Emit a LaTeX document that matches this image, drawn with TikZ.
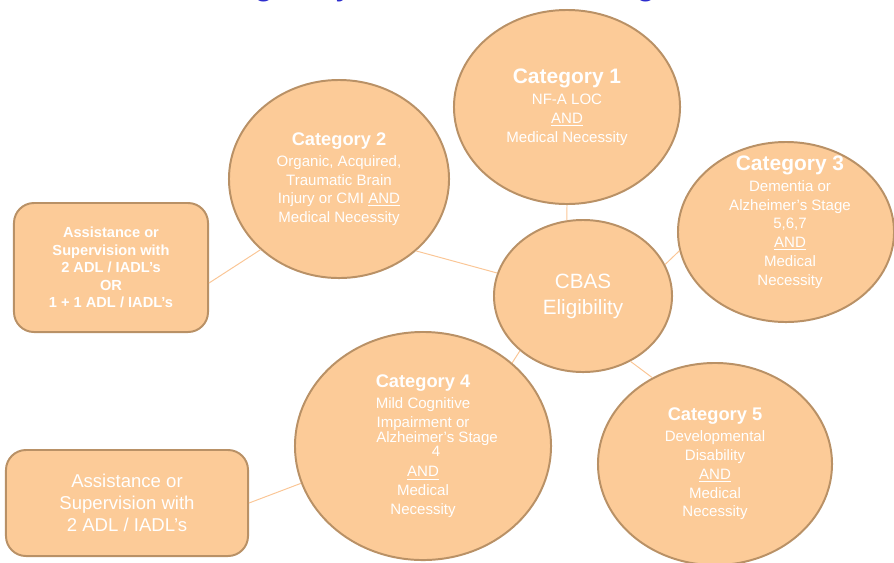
\documentclass[tikz,border=0pt]{standalone}
\usepackage{fontspec}
\setmainfont{Liberation Sans}
\usetikzlibrary{shapes.geometric}

\definecolor{catfill}{RGB}{252,203,152}
\definecolor{catline}{RGB}{185,145,102}
\definecolor{linkline}{RGB}{250,198,150}
\definecolor{titleblue}{RGB}{45,45,205}

\newcommand{\cathead}[1]{{\fontsize{13}{15}\selectfont\bfseries #1}}
\newcommand{\catbighead}[1]{{\fontsize{14.9}{17}\selectfont\bfseries #1}}

\begin{document}
\begin{tikzpicture}[x=0.025cm, y=-0.025cm,
    cattext/.style={text=white, align=center, font=\fontsize{10.7}{13.3}\selectfont},
    cat/.style={cattext, ellipse, draw=catline, fill=catfill, line width=1.4pt, inner sep=0pt},
    adlbox/.style={rectangle, rounded corners=0.5cm, draw=catline, fill=catfill, line width=1.4pt, inner sep=0pt, text=white, align=center},
    link/.style={draw=linkline, line width=0.7pt}]
    \useasboundingbox (0,0) rectangle (894,562);
    \clip (0,0) rectangle (894,562);

    % cut-off heading
    \node (title) [anchor=base, text=titleblue, font=\fontsize{25.6}{30}\selectfont] at (420,-6) {CBAS Eligibility Criteria and Categories};

    \node (cat1) [cat, minimum width=5.65cm, minimum height=4.85cm] at (567,107) {\catbighead{Category 1}\\[1.7pt]NF-A LOC\\\underline{AND}\\Medical Necessity};
    \node (cat2) [cat, minimum width=5.5cm, minimum height=4.95cm] at (339,179) {\cathead{Category 2}\\[1.7pt]Organic, Acquired,\\Traumatic Brain\\Injury or CMI \underline{AND}\\Medical Necessity};
    \node (cat3) [cat, minimum width=5.4cm, minimum height=4.5cm] at (786,232) {};
    \node (cat3text) [cattext] at (790,222) {\catbighead{Category 3}\\[1.7pt]Dementia or\\Alzheimer's Stage\\5,6,7\\\underline{AND}\\Medical\\Necessity};
    \node (cbas) [cat, minimum width=4.45cm, minimum height=3.8cm, font=\fontsize{14.7}{18.5}\selectfont] at (583,296) {CBAS\\Eligibility};
    \node (cat4) [cat, minimum width=6.4cm, minimum height=5.7cm] at (423,446) {\cathead{Category 4}\\[1.7pt]Mild Cognitive\\Impairment or\\[-2.6pt]\hspace*{20pt}Alzheimer's Stage\\[-3.4pt]\hspace*{18.5pt}4\\[1.6pt]\underline{AND}\\Medical\\Necessity};
    \node (cat5) [cat, minimum width=5.85cm, minimum height=5.05cm] at (715,464) {\cathead{Category 5}\\[1.7pt]Developmental\\Disability\\\underline{AND}\\Medical\\Necessity};

    \node (adl1) [adlbox, minimum width=4.85cm, minimum height=3.225cm, font=\fontsize{10.4}{12.45}\selectfont\bfseries] at (111,267.5) {Assistance or\\Supervision with\\2 ADL / IADL's\\OR\\1 + 1 ADL / IADL's};
    \node (adl2) [adlbox, minimum width=6.05cm, minimum height=2.65cm, font=\fontsize{13.2}{15.6}\selectfont] at (127,503) {Assistance or\\Supervision with\\2 ADL / IADL's};

    \draw [link] (adl1.-9) -- (cat2.222);
    \draw [link] (cat2.-43) -- (cbas.165);
    \draw [link] (cat1.south) -- (cbas.102);
    \draw [link] (cbas.21) -- (cat3.190);
    \draw [link] (cbas.221) -- (cat4.43);
    \draw [link] (cbas.-54) -- (cat5.126);
    \draw [link] (adl2.east) -- (cat4.197);
\end{tikzpicture}
\end{document}
